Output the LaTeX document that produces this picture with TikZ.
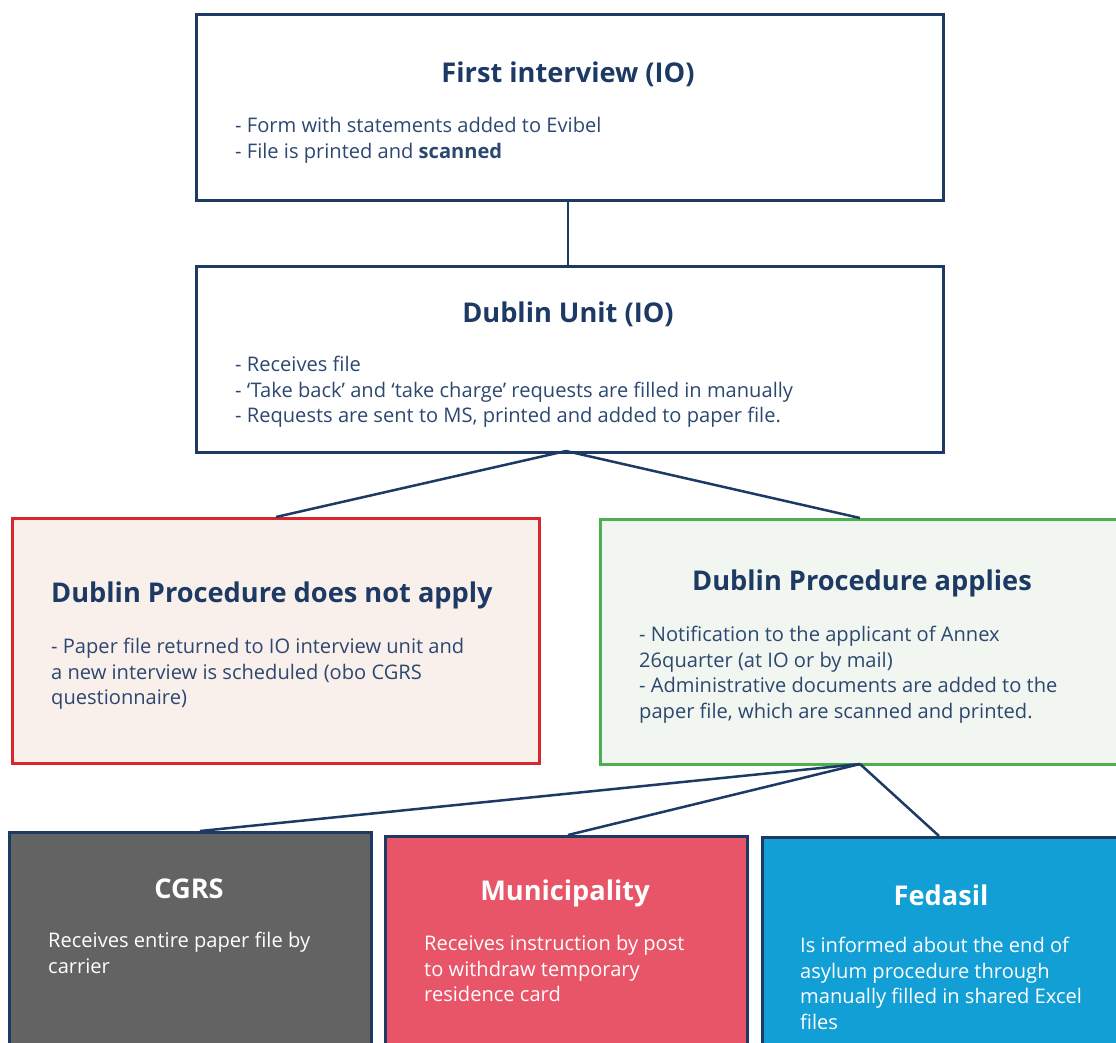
\documentclass[tikz,border=0pt]{standalone}
\usepackage{fontspec}
\setmainfont{Open Sans}
\definecolor{navy}{HTML}{1C3A63}
\definecolor{bodytxt}{HTML}{2C4770}
\definecolor{redline}{HTML}{D8262F}
\definecolor{redfill}{HTML}{F9F0EC}
\definecolor{greenline}{HTML}{4CB050}
\definecolor{greenfill}{HTML}{F2F6F0}
\definecolor{greyfill}{HTML}{636363}
\definecolor{pinkfill}{HTML}{E85468}
\definecolor{bluefill}{HTML}{129FD6}
\begin{document}
\begin{tikzpicture}[x=1pt,y=-1pt,
  box/.style={draw=navy,line width=2.5pt,inner sep=0pt,anchor=north west},
  ttl/.style={font=\fontsize{27.2}{30}\selectfont\bfseries,text=navy,inner sep=0pt},
  bdy/.style={font=\fontsize{20.1}{25.7}\selectfont,text=bodytxt,inner sep=0pt,anchor=north west,align=left},
  wttl/.style={ttl,text=white},
  wbdy/.style={bdy,text=white},
  conn/.style={draw=navy,line width=2.5pt}]
\useasboundingbox (0,0) rectangle (1116,1042);
% boxes
\node[box,minimum width=747pt,minimum height=186pt] (first) at (195,13) {};
\node[box,minimum width=747pt,minimum height=186pt] (dublin) at (195,265) {};
\node[box,draw=redline,fill=redfill,minimum width=527pt,minimum height=245pt] (noapply) at (11,517) {};
\node[box,draw=greenline,fill=greenfill,minimum width=518pt,minimum height=245pt] (applies) at (599,518) {};
\node[box,fill=greyfill,minimum width=362pt,minimum height=230pt] (cgrs) at (8,831) {};
\node[box,fill=pinkfill,minimum width=362pt,minimum height=230pt] (muni) at (384,835) {};
\node[box,fill=bluefill,minimum width=360pt,minimum height=230pt] (fed) at (761,836) {};
% connectors
\coordinate (dA) at (566,451);
\coordinate (gA) at (860,764);
\draw[conn] (first.south -| 568,0) -- (dublin.north -| 568,0);
\draw[conn] (dA) -- (noapply.north -| 276,0);
\draw[conn] (dA) -- (applies.north -| 860,0);
\draw[conn] (gA) -- (cgrs.north -| 200,0);
\draw[conn] (gA) -- (muni.north -| 568,0);
\draw[conn] (gA) -- (fed.north -| 939,0);
% texts
\node[ttl] (t1) at (568,74) {First interview (IO)};
\node[bdy] (b1) at (235,117) {- Form with statements added to Evibel\\- File is printed and \textbf{scanned}};
\node[ttl] (t2) at (568,314) {Dublin Unit (IO)};
\node[bdy] (b2) at (235,356) {- Receives file\\- ‘Take back’ and ‘take charge’ requests are filled in manually\\- Requests are sent to MS, printed and added to paper file.};
\node[ttl,anchor=west] (t3) at (51,595) {Dublin Procedure does not apply};
\node[bdy] (b3) at (51,638) {- Paper file returned to IO interview unit and\\a new interview is scheduled (obo CGRS\\questionnaire)};
\node[ttl] (t4) at (862,583) {Dublin Procedure applies};
\node[bdy] (b4) at (639,626) {- Notification to the applicant of Annex\\26quarter (at IO or by mail)\\- Administrative documents are added to the\\paper file, which are scanned and printed.};
\node[wttl] (t5) at (189,889) {CGRS};
\node[wbdy] (b5) at (48,932) {Receives entire paper file by\\carrier};
\node[wttl] (t6) at (565,893) {Municipality};
\node[wbdy] (b6) at (424,935) {Receives instruction by post\\to withdraw temporary\\residence card};
\node[wttl] (t7) at (941,895) {Fedasil};
\node[wbdy] (b7) at (800,937) {Is informed about the end of\\asylum procedure through\\manually filled in shared Excel\\files};
\end{tikzpicture}
\end{document}
